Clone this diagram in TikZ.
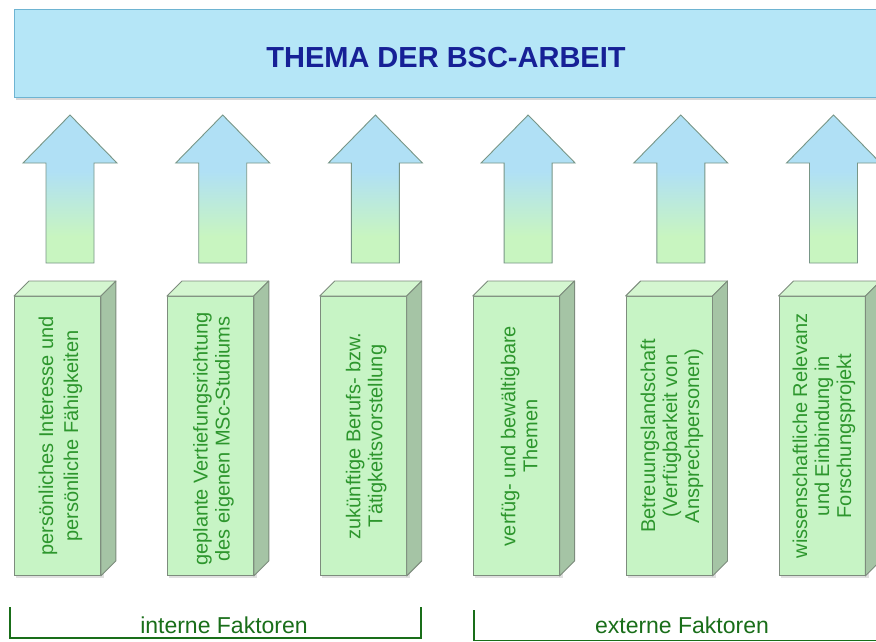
\documentclass[tikz,border=0pt]{standalone}
\usepackage{fontspec}
\setmainfont{Liberation Sans}
\usetikzlibrary{shadows,calc}
\definecolor{titlefill}{RGB}{181,230,247}
\definecolor{titledraw}{RGB}{110,180,210}
\definecolor{titletext}{RGB}{22,32,150}
\definecolor{arrowblue}{RGB}{176,224,245}
\definecolor{arrowgreen}{RGB}{200,245,192}
\definecolor{arrowdraw}{RGB}{120,150,135}
\definecolor{facefill}{RGB}{199,244,197}
\definecolor{topfill}{RGB}{212,246,208}
\definecolor{sidefill}{RGB}{165,196,165}
\definecolor{boxdraw}{RGB}{125,140,125}
\definecolor{boxtext}{RGB}{45,150,45}
\definecolor{labgreen}{RGB}{25,110,25}
\pgfdeclareverticalshading{arrowshade}{100bp}{color(0bp)=(arrowgreen); color(34bp)=(arrowgreen); color(56bp)=(arrowblue); color(100bp)=(arrowblue)}
\tikzset{
  titlebox/.style={draw=titledraw, line width=1.2pt, fill=titlefill, rectangle, inner sep=0pt,
    drop shadow={shadow xshift=1pt, shadow yshift=-2.5pt, opacity=0.3}},
  titletxt/.style={font=\fontsize{29}{32}\selectfont\bfseries, text=titletext},
  blockarrow/.style={draw=arrowdraw, line width=0.9pt, shading=arrowshade, line join=miter},
  frontface/.style={draw=boxdraw, line width=0.9pt, fill=facefill, rectangle, inner sep=0pt,
    minimum width=86pt, minimum height=279pt, anchor=north west},
  topface/.style={draw=boxdraw, line width=0.9pt, fill=topfill, line join=round},
  sideface/.style={draw=boxdraw, line width=0.9pt, fill=sidefill, line join=round},
  boxlabel/.style={rotate=90, align=center, text=boxtext, inner sep=0pt,
    font=\fontsize{20}{22}\selectfont},
  bracketline/.style={draw=labgreen, line width=1.6pt},
  grouplabel/.style={text=labgreen, font=\fontsize{23}{26}\selectfont, anchor=base}
}
\begin{document}
\begin{tikzpicture}[x=1pt,y=-1pt]
\useasboundingbox (0,0) rectangle (876,641);
\fill[white] (0,0) rectangle (876,641);

% title box
\node[titlebox, anchor=north west, minimum width=890pt, minimum height=88pt] (topbox) at (14,9) {};
\node[titletxt] (title) at (446,58) {THEMA DER BSC-ARBEIT};

% block arrows
\foreach \i in {1,...,6} {
  \pgfmathsetmacro\c{70+152.7*(\i-1)}
  \draw[blockarrow] ({\c-24},263) -- ({\c-24},163) -- ({\c-47},163) -- (\c,115)
     -- ({\c+47},163) -- ({\c+24},163) -- ({\c+24},263) -- cycle;
}

% 3D boxes
\foreach \i in {1,...,6} {
  \pgfmathsetmacro\l{14+152.9*(\i-1)}
  \fill[black, opacity=0.12] ({\l+2},299) rectangle ({\l+90},578);
  \node[frontface] (f\i) at (\l,296) {};
  \draw[topface] (f\i.north west) -- ++(15,-15) -- ($(f\i.north east)+(15,-15)$) -- (f\i.north east) -- cycle;
  \draw[sideface] (f\i.north east) -- ++(15,-15) -- ($(f\i.south east)+(15,-15)$) -- (f\i.south east) -- cycle;
}

\node[boxlabel, font=\fontsize{20}{25}\selectfont] (t1) at ($(f1.center)+(3,0)$) {persönliches Interesse und\\persönliche Fähigkeiten};
\node[boxlabel] (t2) at ($(f2.center)+(3,3)$) {geplante Vertiefungsrichtung\\des eigenen MSc-Studiums};
\node[boxlabel] (t3) at ($(f3.center)+(3,0)$) {zukünftige Berufs- bzw.\\Tätigkeitsvorstellung};
\node[boxlabel] (t4) at ($(f4.center)+(3,0)$) {verfüg- und bewältigbare\\Themen};
\node[boxlabel] (t5) at ($(f5.center)+(3,0)$) {Betreuungslandschaft\\(Verfügbarkeit von\\Ansprechpersonen)};
\node[boxlabel] (t6) at ($(f6.center)+(2,0)$) {wissenschaftliche Relevanz\\und Einbindung in\\Forschungsprojekt};

% group brackets
\coordinate (ia) at (10,607);
\coordinate (ib) at (10,638);
\coordinate (ic) at (421,638);
\coordinate (id) at (421,607);
\draw[bracketline] (ia) -- (ib) -- (ic) -- (id);
\node[grouplabel] (intern) at (224,633) {interne Faktoren};

\coordinate (ea) at (474,610);
\coordinate (eb) at (474,640.5);
\coordinate (ec) at (900,640.5);
\draw[bracketline] (ea) -- (eb) -- (ec);
\node[grouplabel] (extern) at (682,633) {externe Faktoren};
\end{tikzpicture}
\end{document}
